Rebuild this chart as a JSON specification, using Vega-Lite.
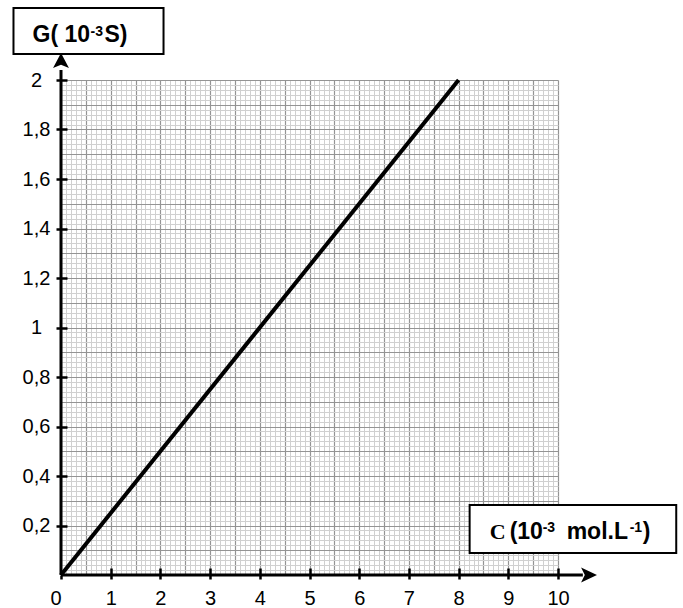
{
  "$schema": "https://vega.github.io/schema/vega-lite/v6.json",
  "width": 497,
  "height": 495,
  "autosize": {"type": "none"},
  "padding": {"left": 61, "top": 80, "right": 125, "bottom": 33},
  "background": "white",
  "config": {"view": {"stroke": null}, "font": "Liberation Sans"},
  "datasets": {
    "line": [{"C": 0, "G": 0}, {"C": 8, "G": 2}],
    "axes": [{"C": 0, "G": 0, "C2": 10.5, "G2": 0}, {"C": 0, "G": 0, "C2": 0, "G2": 2.04}],
    "arrows": [{"C": 10.596, "G": 0, "dir": "right"}, {"C": 0, "G": 2.071, "dir": "up"}],
    "boxes": [
      {"name": "G", "C": -0.956, "C2": 2.063, "G": 2.2909, "G2": 2.105},
      {"name": "C", "C": 8.222, "C2": 12.379, "G": 0.2828, "G2": 0.0889}
    ],
    "titles": [
      {"name": "G", "C": -0.5737, "G": 2.1523},
      {"name": "C", "C": 8.6453, "G": 0.14424}
    ]
  },
  "encoding": {
    "x": {"field": "C", "type": "quantitative", "scale": {"domain": [0, 10], "nice": false, "zero": false}, "axis": null},
    "y": {"field": "G", "type": "quantitative", "scale": {"domain": [0, 2], "nice": false, "zero": false}, "axis": null}
  },
  "layer": [
    {
      "data": {"name": "line"},
      "mark": {"type": "point", "opacity": 0},
      "encoding": {
        "x": {"field": "C", "type": "quantitative", "axis": {
          "orient": "bottom",
          "grid": true, "ticks": false, "labels": false, "domain": false, "title": null,
          "gridColor": "#d0d0d0", "gridWidth": 1,
          "values": [0.1,0.2,0.3,0.4,0.6,0.7,0.8,0.9,1.1,1.2,1.3,1.4,1.6,1.7,1.8,1.9,2.1,2.2,2.3,2.4,2.6,2.7,2.8,2.9,3.1,3.2,3.3,3.4,3.6,3.7,3.8,3.9,4.1,4.2,4.3,4.4,4.6,4.7,4.8,4.9,5.1,5.2,5.3,5.4,5.6,5.7,5.8,5.9,6.1,6.2,6.3,6.4,6.6,6.7,6.8,6.9,7.1,7.2,7.3,7.4,7.6,7.7,7.8,7.9,8.1,8.2,8.3,8.4,8.6,8.7,8.8,8.9,9.1,9.2,9.3,9.4,9.6,9.7,9.8,9.9]}},
        "y": {"field": "G", "type": "quantitative", "axis": {
          "orient": "left",
          "grid": true, "ticks": false, "labels": false, "domain": false, "title": null,
          "gridColor": "#d0d0d0", "gridWidth": 1,
          "values": [0.02,0.04,0.06,0.08,0.12,0.14,0.16,0.18,0.22,0.24,0.26,0.28,0.32,0.34,0.36,0.38,0.42,0.44,0.46,0.48,0.52,0.54,0.56,0.58,0.62,0.64,0.66,0.68,0.72,0.74,0.76,0.78,0.82,0.84,0.86,0.88,0.92,0.94,0.96,0.98,1.02,1.04,1.06,1.08,1.12,1.14,1.16,1.18,1.22,1.24,1.26,1.28,1.32,1.34,1.36,1.38,1.42,1.44,1.46,1.48,1.52,1.54,1.56,1.58,1.62,1.64,1.66,1.68,1.72,1.74,1.76,1.78,1.82,1.84,1.86,1.88,1.92,1.94,1.96,1.98]}}
      }
    },
    {
      "data": {"name": "line"},
      "mark": {"type": "point", "opacity": 0},
      "encoding": {
        "x": {"field": "C", "type": "quantitative", "axis": {
          "orient": "bottom",
          "grid": true, "ticks": false,
          "labels": false, "domain": false, "title": null,
          "gridColor": "#949494", "gridWidth": 1.2,
          "values": [0,0.5,1,1.5,2,2.5,3,3.5,4,4.5,5,5.5,6,6.5,7,7.5,8,8.5,9,9.5,10]}},
        "y": {"field": "G", "type": "quantitative", "axis": {
          "orient": "left",
          "grid": true, "ticks": false,
          "labels": false, "domain": false, "title": null,
          "gridColor": "#949494", "gridWidth": 1.2,
          "values": [0,0.1,0.2,0.3,0.4,0.5,0.6,0.7,0.8,0.9,1,1.1,1.2,1.3,1.4,1.5,1.6,1.7,1.8,1.9,2]}}
      }
    },
    {
      "data": {"name": "line"},
      "mark": {"type": "line", "color": "black", "strokeWidth": 4},
      "encoding": {
        "x": {"field": "C", "type": "quantitative", "axis": {
          "orient": "bottom", "zindex": 1,
          "grid": false, "domain": false, "title": null,
          "ticks": true, "tickSize": 4, "tickWidth": 2.5, "tickColor": "black",
          "labels": true, "labelFont": "Liberation Sans", "labelFontSize": 20, "labelColor": "black",
          "labelPadding": 9,
          "labelAlign": {"condition": {"test": "datum.value == 0", "value": "right"}, "value": "center"},
          "values": [0,1,2,3,4,5,6,7,8,9,10]}},
        "y": {"field": "G", "type": "quantitative", "axis": {
          "orient": "left", "zindex": 1,
          "grid": false, "domain": false, "title": null,
          "ticks": true, "tickSize": 5, "tickWidth": 2.5, "tickColor": "black",
          "labels": true, "labelFont": "Liberation Sans", "labelFontSize": 20, "labelColor": "black",
          "labelPadding": 20, "labelAlign": "center", "labelBaseline": "middle",
          "format": ".1~f", "labelExpr": "replace(datum.label, '.', ',')",
          "values": [0.2,0.4,0.6,0.8,1,1.2,1.4,1.6,1.8,2]}}
      }
    },
    {
      "data": {"name": "line"},
      "mark": {"type": "point", "opacity": 0},
      "encoding": {
        "x": {"field": "C", "type": "quantitative", "axis": {
          "orient": "bottom", "zindex": 1,
          "grid": false, "ticks": true, "tickSize": -7, "tickWidth": 2.5, "tickColor": "black",
          "labels": false, "domain": false, "title": null,
          "values": [1,2,3,4,5,6,7,8,9,10]}},
        "y": {"field": "G", "type": "quantitative", "axis": {
          "orient": "left", "zindex": 1,
          "grid": false, "ticks": true, "tickSize": -6, "tickWidth": 2.5, "tickColor": "black",
          "labels": false, "domain": false, "title": null,
          "values": [0.2,0.4,0.6,0.8,1,1.2,1.4,1.6,1.8,2]}}
      }
    },
    {
      "data": {"name": "axes"},
      "mark": {"type": "rule", "color": "black", "strokeWidth": 3},
      "encoding": {
        "x2": {"field": "C2"},
        "y2": {"field": "G2"}
      }
    },
    {
      "data": {"name": "arrows"},
      "transform": [{"filter": "datum.dir == 'up'"}],
      "mark": {"type": "point", "filled": true, "color": "black", "opacity": 1, "size": 350,
        "shape": "M0,-1 L0.85,0.6 L0,0.25 L-0.85,0.6 Z"}
    },
    {
      "data": {"name": "arrows"},
      "transform": [{"filter": "datum.dir == 'right'"}],
      "mark": {"type": "point", "filled": true, "color": "black", "opacity": 1, "size": 350,
        "shape": "M1,0 L-0.7,0.8 L-0.3,0 L-0.7,-0.8 Z"}
    },
    {
      "data": {"name": "boxes"},
      "mark": {"type": "rect", "fill": "white", "stroke": "black", "strokeWidth": 2},
      "encoding": {
        "x2": {"field": "C2"},
        "y2": {"field": "G2"}
      }
    },
    {
      "data": {"name": "titles"},
      "transform": [{"filter": "datum.name == 'G'"}],
      "mark": {"type": "text", "text": "G( 10", "align": "left", "baseline": "alphabetic", "font": "Liberation Sans", "fontWeight": "bold", "fontSize": 23, "color": "black", "dx": 0}
    },
    {
      "data": {"name": "titles"},
      "transform": [{"filter": "datum.name == 'G'"}],
      "mark": {"type": "text", "text": "-3", "align": "left", "baseline": "alphabetic", "font": "Liberation Sans", "fontWeight": "bold", "fontSize": 14, "color": "black", "dx": 58, "dy": -6}
    },
    {
      "data": {"name": "titles"},
      "transform": [{"filter": "datum.name == 'G'"}],
      "mark": {"type": "text", "text": "S)", "align": "left", "baseline": "alphabetic", "font": "Liberation Sans", "fontWeight": "bold", "fontSize": 23, "color": "black", "dx": 72}
    },
    {
      "data": {"name": "titles"},
      "transform": [{"filter": "datum.name == 'C'"}],
      "mark": {"type": "text", "text": "C", "align": "left", "baseline": "alphabetic", "font": "Liberation Serif", "fontWeight": "bold", "fontSize": 22, "color": "black", "dx": -1}
    },
    {
      "data": {"name": "titles"},
      "transform": [{"filter": "datum.name == 'C'"}],
      "mark": {"type": "text", "text": "(10", "align": "left", "baseline": "alphabetic", "font": "Liberation Sans", "fontWeight": "bold", "fontSize": 23, "color": "black", "dx": 19}
    },
    {
      "data": {"name": "titles"},
      "transform": [{"filter": "datum.name == 'C'"}],
      "mark": {"type": "text", "text": "-3", "align": "left", "baseline": "alphabetic", "font": "Liberation Sans", "fontWeight": "bold", "fontSize": 14, "color": "black", "dx": 52, "dy": -7}
    },
    {
      "data": {"name": "titles"},
      "transform": [{"filter": "datum.name == 'C'"}],
      "mark": {"type": "text", "text": "mol.L", "align": "left", "baseline": "alphabetic", "font": "Liberation Sans", "fontWeight": "bold", "fontSize": 23, "color": "black", "dx": 76}
    },
    {
      "data": {"name": "titles"},
      "transform": [{"filter": "datum.name == 'C'"}],
      "mark": {"type": "text", "text": "-1", "align": "left", "baseline": "alphabetic", "font": "Liberation Sans", "fontWeight": "bold", "fontSize": 14, "color": "black", "dx": 139, "dy": -7}
    },
    {
      "data": {"name": "titles"},
      "transform": [{"filter": "datum.name == 'C'"}],
      "mark": {"type": "text", "text": ")", "align": "left", "baseline": "alphabetic", "font": "Liberation Sans", "fontWeight": "bold", "fontSize": 23, "color": "black", "dx": 152}
    }
  ],
  "resolve": {"axis": {"x": "independent", "y": "independent"}}
}
